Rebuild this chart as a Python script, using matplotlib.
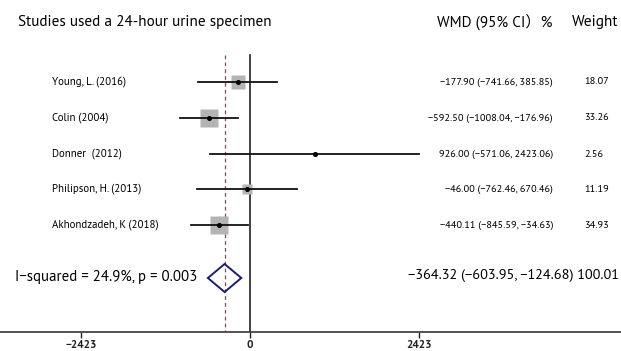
import numpy as np
import matplotlib
matplotlib.use("Agg")
import matplotlib.pyplot as plt

# study-level data (WMD, 95% CI, weight %)
studies = ["Young, L. (2016)", "Colin (2004)", "Donner  (2012)",
           "Philipson, H. (2013)", "Akhondzadeh, K (2018)"]
wmd = [-177.90, -592.50, 926.00, -46.00, -440.11]
lo = [-741.66, -1008.04, -571.06, -762.46, -845.59]
hi = [385.85, -176.96, 2423.06, 670.46, -34.63]
weight = [18.07, 33.26, 2.56, 11.19, 34.93]

pooled = -364.32
pooled_lo = -603.95
pooled_hi = -124.68
heterogeneity = "I\u2212squared = 24.9%, p = 0.003"
xticks = [-2423, 0, 2423]

FONT = ["PT Sans", "Lato", "DejaVu Sans"]
plt.rcParams["font.family"] = FONT


def neg(s):
    return s.replace("-", "\u2212")


W, H = 621, 351
fig = plt.figure(figsize=(W / 100, H / 100), dpi=100)
renderer = fig.canvas.get_renderer()
axis_y = 332
ax = fig.add_axes([0, (H - axis_y) / H, 1, axis_y / H])
upp = 2423 / 169.0                       # data units per pixel
ax.set_xlim(-250 * upp, (W - 250) * upp)
ax.set_ylim(axis_y, 0)                   # y in pixel rows from the top

for s in ["top", "left", "right"]:
    ax.spines[s].set_visible(False)
ax.spines["bottom"].set_linewidth(1.3)
ax.spines["bottom"].set_color("#444444")
ax.set_yticks([])
ax.set_xticks(xticks)
ax.set_xticklabels([neg(str(t)) for t in xticks], fontsize=8, fontweight="bold")
ax.tick_params(axis="x", length=4, width=1, pad=1.5, colors="#222222")


def put(x, y, s, size, ha="left", fit=None, **kw):
    t = fig.text(x / W, 1 - y / H, s, fontsize=size, va="center", ha=ha, **kw)
    if fit:
        w = t.get_window_extent(renderer).width
        t.set_fontsize(size * fit / w)
    return t


def fit_size(s, width, size=10, **kw):
    t = fig.text(0, 0, s, fontsize=size, **kw)
    w = t.get_window_extent(renderer).width
    t.remove()
    return size * width / w


rows = [82, 118, 154, 189, 225]
pooled_y = 278

ax.plot([0, 0], [55, axis_y], color="#222222", lw=1.2)
ax.plot([pooled, pooled], [55, axis_y], color="#b5373c", lw=0.9, ls=(0, (3, 2.5)))

name_size = fit_size(studies[4], 107)
eff_labels = [neg(f"{m:.2f} ({l:.2f}, {h:.2f})") for m, l, h in zip(wmd, lo, hi)]
eff_size = fit_size(eff_labels[0], 112)

for y, name, m, l, h, w, lab in zip(rows, studies, wmd, lo, hi, weight, eff_labels):
    side = 3.12 * np.sqrt(w) * 0.72
    ax.plot(m, y, marker="s", ms=side, color="#b4b4b4", mec="none", zorder=2)
    ax.plot([l, h], [y, y], color="#111111", lw=1.3, zorder=3)
    ax.plot(m, y, marker="o", ms=2.6, color="black", zorder=4)
    put(52, y, name, name_size)
    put(553, y, lab, eff_size, ha="right")
    put(584, y, f"{w:.2f}", eff_size)

dh = 14
ax.fill([pooled_lo, pooled, pooled_hi, pooled, pooled_lo],
        [pooled_y, pooled_y - dh, pooled_y, pooled_y + dh, pooled_y],
        facecolor="none", edgecolor="#1c1c78", lw=1.4, zorder=5)

put(18, 22, "Studies used a 24-hour urine specimen", 11, fit=254)
put(437, 22, "WMD (95% CI\uff09%", 10, fit=116,
    family=FONT[:2] + ["Noto Sans CJK SC", "DejaVu Sans"])
put(572, 22, "Weight", 10, fit=47)

put(15, pooled_y - 1, heterogeneity, 10, fit=183)
put(408, pooled_y - 3,
    neg(f"{pooled:.2f} ({pooled_lo:.2f}, {pooled_hi:.2f}) {sum(weight):.2f}"), 10, fit=212)

fig.savefig("out.png", dpi=100, facecolor="white")
